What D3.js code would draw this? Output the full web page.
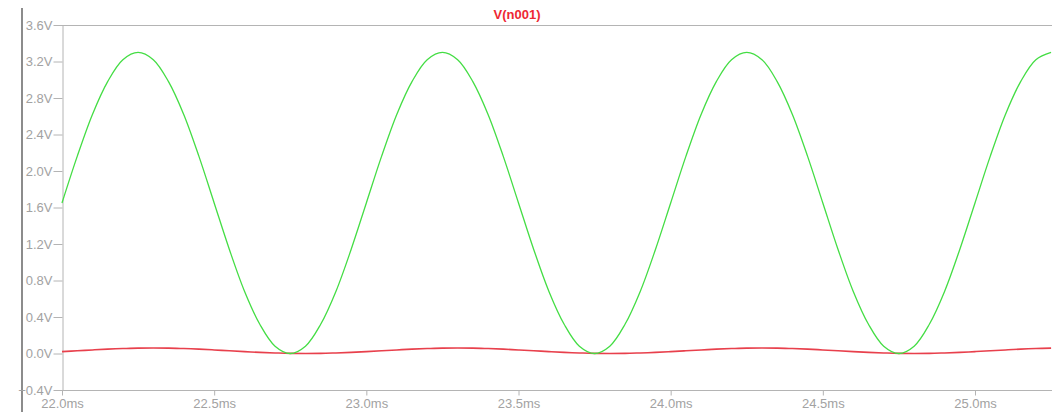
<!DOCTYPE html>
<html><head><meta charset="utf-8">
<script src="https://cdn.jsdelivr.net/npm/d3@7"></script>
<style>html,body{margin:0;padding:0;background:#fff;overflow:hidden}</style>
</head><body>
<svg id="c" width="1052" height="412"></svg>
<script>
const title = "V(n001)";
const times = [22.00,22.05,22.10,22.15,22.20,22.25,22.30,22.35,22.40,22.45,22.50,22.55,22.60,22.65,22.70,22.75,22.80,22.85,22.90,22.95,
23.00,23.05,23.10,23.15,23.20,23.25,23.30,23.35,23.40,23.45,23.50,23.55,23.60,23.65,23.70,23.75,23.80,23.85,23.90,23.95,
24.00,24.05,24.10,24.15,24.20,24.25,24.30,24.35,24.40,24.45,24.50,24.55,24.60,24.65,24.70,24.75,24.80,24.85,24.90,24.95,
25.00,25.05,25.10,25.15,25.20,25.25];
const greenV = [1.65,2.16,2.62,2.98,3.22,3.30,3.22,2.98,2.62,2.16,1.65,1.14,0.68,0.32,0.08,0.00,0.08,0.32,0.68,1.14,
1.65,2.16,2.62,2.98,3.22,3.30,3.22,2.98,2.62,2.16,1.65,1.14,0.68,0.32,0.08,0.00,0.08,0.32,0.68,1.14,
1.65,2.16,2.62,2.98,3.22,3.30,3.22,2.98,2.62,2.16,1.65,1.14,0.68,0.32,0.08,0.00,0.08,0.32,0.68,1.14,
1.65,2.16,2.62,2.98,3.22,3.30];
const redV = [0.021,0.030,0.039,0.048,0.054,0.059,0.060,0.059,0.054,0.048,0.039,0.030,0.021,0.012,0.006,0.001,0.000,0.001,0.006,0.012,
0.021,0.030,0.039,0.048,0.054,0.059,0.060,0.059,0.054,0.048,0.039,0.030,0.021,0.012,0.006,0.001,0.000,0.001,0.006,0.012,
0.021,0.030,0.039,0.048,0.054,0.059,0.060,0.059,0.054,0.048,0.039,0.030,0.021,0.012,0.006,0.001,0.000,0.001,0.006,0.012,
0.021,0.030,0.039,0.048,0.054,0.059];
const yTicks = [-0.4,0.0,0.4,0.8,1.2,1.6,2.0,2.4,2.8,3.2,3.6];
const xTicks = [22.0,22.5,23.0,23.5,24.0,24.5,25.0];

const svg = d3.select("#c");
const L = 62, T = 25, B = 390, W = 1052;
const x = d3.scaleLinear().domain([22.0, 25.0]).range([L, 975]);
const y = d3.scaleLinear().domain([-0.4, 3.6]).range([B, T]);
const axisCol = "#b4b4b4", textCol = "#a2a2a2";
const font = "'Liberation Sans', Arial, sans-serif";

// left outer bar
svg.append("line").attr("x1",22).attr("x2",22).attr("y1",8).attr("y2",412)
  .attr("stroke","#8c8c8c").attr("stroke-width",2);
// top border
svg.append("line").attr("x1",L).attr("x2",W).attr("y1",T+0.5).attr("y2",T+0.5).attr("stroke",axisCol);

const ya = svg.append("g").attr("transform",`translate(${L+0.5},0)`)
  .call(d3.axisLeft(y).tickValues(yTicks).tickSize(9).tickSizeOuter(0).tickPadding(1)
    .tickFormat(d => d3.format(".1f")(d) + "V"));
const xa = svg.append("g").attr("transform",`translate(0,${B+0.5})`)
  .call(d3.axisBottom(x).tickValues(xTicks).tickSize(5).tickSizeOuter(0).tickPadding(3)
    .tickFormat(d => d3.format(".1f")(d) + "ms"));
[ya, xa].forEach(g => {
  g.selectAll("path.domain").attr("stroke", axisCol);
  g.selectAll(".tick line").attr("stroke", axisCol);
  g.selectAll("text").attr("fill", textCol).attr("font-family", font).attr("font-size", 13);
});
xa.select("path.domain").attr("d", `M${L},0H${W}`);

const line = d3.line().x((d,i)=>x(times[i])).y(d=>y(d)).curve(d3.curveCatmullRom);
svg.append("path").datum(redV).attr("d", line).attr("fill","none")
  .attr("stroke","#e8404c").attr("stroke-width",1.6);
svg.append("path").datum(greenV).attr("d", line).attr("fill","none")
  .attr("stroke","#44dd44").attr("stroke-width",1.3);

svg.append("text").attr("x",517).attr("y",19).attr("text-anchor","middle")
  .attr("fill","#ee2833").attr("font-family",font).attr("font-weight","bold").attr("font-size",13)
  .text(title);
</script>
</body></html>
